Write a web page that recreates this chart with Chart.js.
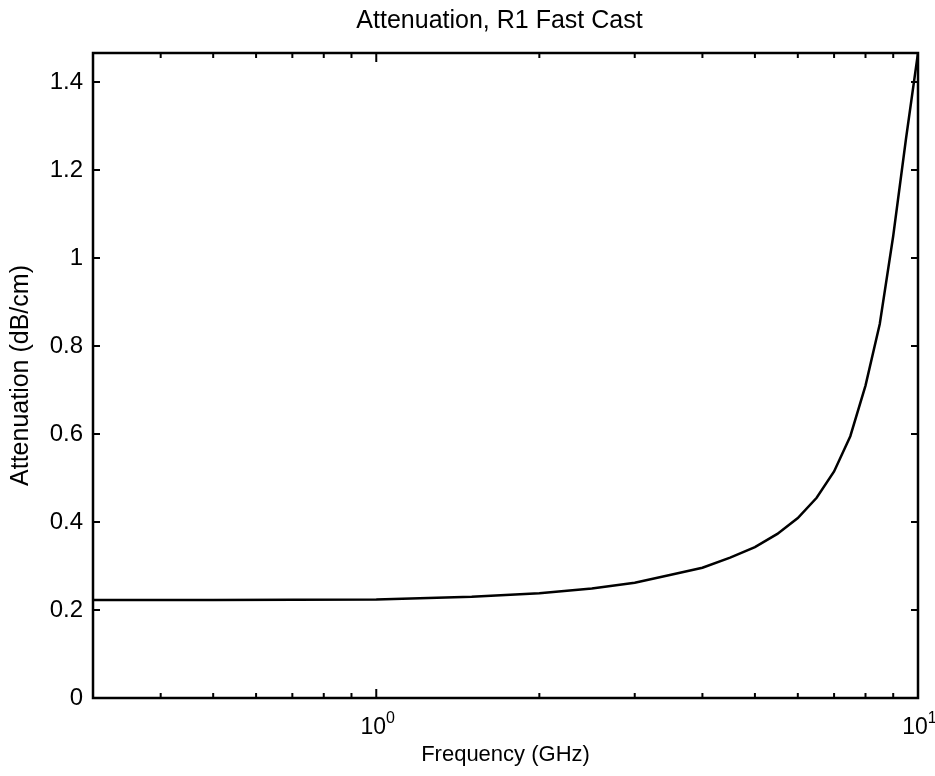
<!DOCTYPE html>
<html><head><meta charset="utf-8">
<script src="https://cdn.jsdelivr.net/npm/chart.js@4"></script>
<style>html,body{margin:0;padding:0;background:#fff}#wrap{width:935px;height:776px;position:relative}</style>
</head><body><div id="wrap"><canvas id="c" width="935" height="776"></canvas></div>
<script>
const chartTitle = 'Attenuation, R1 Fast Cast';
const frequencyGHz = [0.3, 0.5, 1.0, 1.5, 2.0, 2.5, 3.0, 3.5, 4.0, 4.5, 5.0, 5.5, 6.0, 6.5, 7.0, 7.5, 8.0, 8.5, 9.0, 9.5, 10];
const attenuationDbPerCm = [0.223, 0.223, 0.224, 0.230, 0.238, 0.249, 0.262, 0.280, 0.296, 0.319, 0.343, 0.373, 0.409, 0.455, 0.515, 0.595, 0.71, 0.85, 1.05, 1.27, 1.466];
const yTickValues = [0, 0.2, 0.4, 0.6, 0.8, 1, 1.2, 1.4];
const yTickLabels = ['0', '0.2', '0.4', '0.6', '0.8', '1', '1.2', '1.4'];
const xMajorTicks = [1, 10];
const xTickBases = ['10', '10'];
const xTickExponents = ['0', '1'];
const xMinorTicks = [0.4, 0.5, 0.6, 0.7, 0.8, 0.9, 2, 3, 4, 5, 6, 7, 8, 9];

const FAMILY = '"Liberation Sans", Arial, sans-serif';
Chart.defaults.font.family = FAMILY;
Chart.defaults.color = '#000';

const framePlugin = {
  id: 'frame',
  afterDatasetsDraw(chart) {
    const {ctx, chartArea: a, scales: {x, y}} = chart;
    ctx.save();
    ctx.strokeStyle = '#000';
    ctx.lineWidth = 2;
    ctx.beginPath();
    yTickValues.forEach(v => {
      const py = y.getPixelForValue(v);
      ctx.moveTo(a.left, py); ctx.lineTo(a.left + 7, py);
      ctx.moveTo(a.right, py); ctx.lineTo(a.right - 7, py);
    });
    xMajorTicks.forEach(v => {
      const px = x.getPixelForValue(v);
      ctx.moveTo(px, a.bottom); ctx.lineTo(px, a.bottom - 9);
      ctx.moveTo(px, a.top); ctx.lineTo(px, a.top + 9);
    });
    xMinorTicks.forEach(v => {
      const px = x.getPixelForValue(v);
      ctx.moveTo(px, a.bottom); ctx.lineTo(px, a.bottom - 5);
      ctx.moveTo(px, a.top); ctx.lineTo(px, a.top + 5);
    });
    ctx.stroke();
    ctx.lineWidth = 2.5;
    ctx.strokeRect(a.left, a.top, a.right - a.left, a.bottom - a.top);
    ctx.fillStyle = '#000';
    ctx.textBaseline = 'alphabetic';
    ctx.textAlign = 'left';
    xMajorTicks.forEach((v, i) => {
      const px = x.getPixelForValue(v);
      ctx.font = '23px ' + FAMILY;
      const w1 = ctx.measureText(xTickBases[i]).width;
      const bx = px - w1 / 2 - 3;
      ctx.fillText(xTickBases[i], bx, a.bottom + 36);
      ctx.font = '16px ' + FAMILY;
      ctx.fillText(xTickExponents[i], bx + w1, a.bottom + 25);
    });
    // title, centred over the plot box
    ctx.font = '25px ' + FAMILY;
    ctx.textAlign = 'center';
    ctx.fillText(chartTitle, (a.left + a.right) / 2 - 6, 28);
    ctx.restore();
  }
};

new Chart(document.getElementById('c'), {
  type: 'line',
  data: {
    datasets: [{
      data: frequencyGHz.map((f, i) => ({x: f, y: attenuationDbPerCm[i]})),
      borderColor: '#000', borderWidth: 2.5, pointRadius: 0, tension: 0, fill: false
    }]
  },
  options: {
    responsive: false, animation: false, devicePixelRatio: 1,
    layout: {padding: {left: 0, right: 17, top: 53, bottom: 0}},
    plugins: {
      legend: {display: false}, tooltip: {enabled: false}, title: {display: false}
    },
    scales: {
      x: {
        type: 'logarithmic', min: 0.3, max: 10,
        grid: {display: false, drawTicks: false}, border: {display: false},
        afterBuildTicks: s => { s.ticks = xMajorTicks.map(v => ({value: v})); },
        ticks: {callback: () => ''},
        afterFit: s => { s.height = 78; },
        title: {display: true, text: 'Frequency (GHz)', color: '#000',
          font: {family: FAMILY, size: 22, weight: 'normal'}, padding: {top: 0, bottom: 8}}
      },
      y: {
        min: 0, max: 1.466,
        grid: {display: false, drawTicks: false}, border: {display: false},
        afterBuildTicks: s => { s.ticks = yTickValues.map(v => ({value: v})); },
        ticks: {callback: (v, i) => yTickLabels[i], padding: 10, color: '#000',
          font: {family: FAMILY, size: 24}},
        afterFit: s => { s.width = 93; },
        title: {display: true, text: 'Attenuation (dB/cm)', color: '#000',
          font: {family: FAMILY, size: 25, weight: 'normal'}, padding: {top: 6, bottom: 0}}
      }
    }
  },
  plugins: [framePlugin]
});
</script></body></html>
